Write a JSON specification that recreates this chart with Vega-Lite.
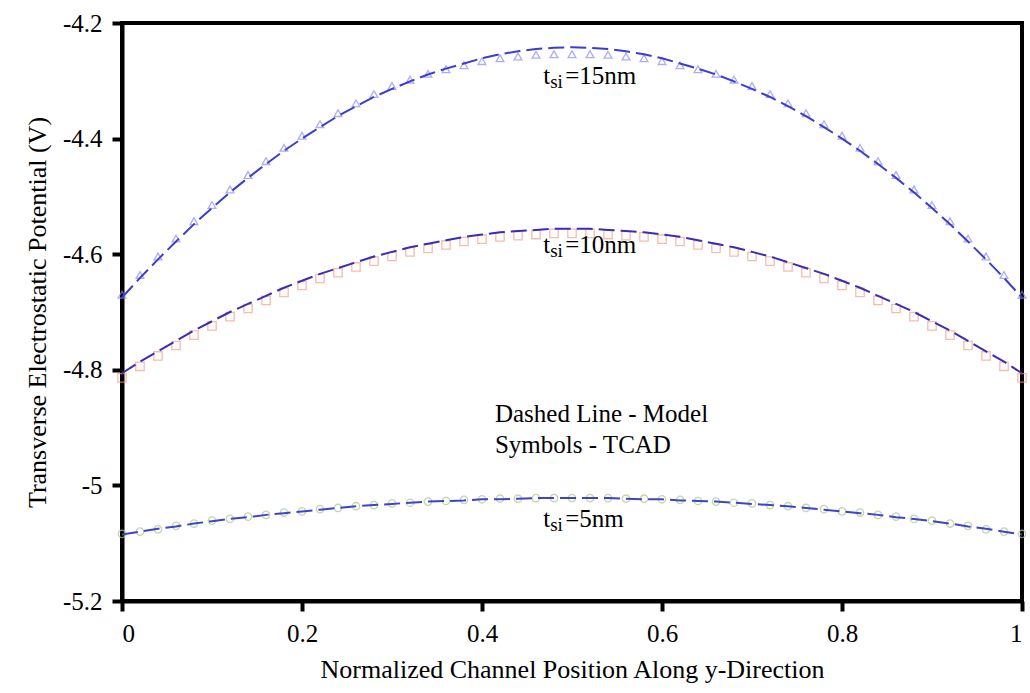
{
  "$schema": "https://vega.github.io/schema/vega-lite/v6.json",
  "width": 900,
  "height": 578,
  "autosize": {"type": "none"},
  "padding": {"left": 122, "top": 23, "right": 8, "bottom": 92},
  "background": "white",
  "config": {
    "font": "Times New Roman, Liberation Serif, DejaVu Serif, serif",
    "view": {"stroke": "black", "strokeWidth": 4},
    "text": {"font": "Times New Roman, Liberation Serif, DejaVu Serif, serif"},
    "axis": {
      "domainColor": "black", "domainWidth": 4,
      "tickColor": "black", "tickWidth": 4, "tickSize": 10,
      "labelFont": "Times New Roman, Liberation Serif, DejaVu Serif, serif", "labelFontSize": 25, "labelColor": "black",
      "titleFont": "Times New Roman, Liberation Serif, DejaVu Serif, serif", "titleFontSize": 26, "titleFontWeight": "normal", "titleColor": "black",
      "grid": false
    }
  },
  "datasets": {
    "curves": [
      {"x": 0.00, "m15": -4.675, "t15": -4.670, "m10": -4.806, "t10": -4.814, "m5": -5.085, "t5": -5.084},
      {"x": 0.02, "m15": -4.641, "t15": -4.636, "m10": -4.786, "t10": -4.794, "m5": -5.080, "t5": -5.080},
      {"x": 0.04, "m15": -4.609, "t15": -4.604, "m10": -4.768, "t10": -4.776, "m5": -5.075, "t5": -5.076},
      {"x": 0.06, "m15": -4.578, "t15": -4.573, "m10": -4.750, "t10": -4.758, "m5": -5.071, "t5": -5.070},
      {"x": 0.08, "m15": -4.548, "t15": -4.543, "m10": -4.732, "t10": -4.740, "m5": -5.066, "t5": -5.066},
      {"x": 0.10, "m15": -4.520, "t15": -4.515, "m10": -4.716, "t10": -4.724, "m5": -5.062, "t5": -5.061},
      {"x": 0.12, "m15": -4.493, "t15": -4.488, "m10": -4.700, "t10": -4.708, "m5": -5.058, "t5": -5.058},
      {"x": 0.14, "m15": -4.468, "t15": -4.463, "m10": -4.686, "t10": -4.694, "m5": -5.055, "t5": -5.054},
      {"x": 0.16, "m15": -4.444, "t15": -4.439, "m10": -4.672, "t10": -4.680, "m5": -5.051, "t5": -5.051},
      {"x": 0.18, "m15": -4.421, "t15": -4.416, "m10": -4.658, "t10": -4.666, "m5": -5.048, "t5": -5.047},
      {"x": 0.20, "m15": -4.400, "t15": -4.395, "m10": -4.646, "t10": -4.654, "m5": -5.045, "t5": -5.045},
      {"x": 0.22, "m15": -4.380, "t15": -4.375, "m10": -4.634, "t10": -4.642, "m5": -5.042, "t5": -5.041},
      {"x": 0.24, "m15": -4.361, "t15": -4.356, "m10": -4.624, "t10": -4.632, "m5": -5.039, "t5": -5.039},
      {"x": 0.26, "m15": -4.344, "t15": -4.339, "m10": -4.614, "t10": -4.622, "m5": -5.036, "t5": -5.036},
      {"x": 0.28, "m15": -4.328, "t15": -4.323, "m10": -4.604, "t10": -4.612, "m5": -5.034, "t5": -5.034},
      {"x": 0.30, "m15": -4.314, "t15": -4.309, "m10": -4.596, "t10": -4.604, "m5": -5.032, "t5": -5.031},
      {"x": 0.32, "m15": -4.301, "t15": -4.298, "m10": -4.588, "t10": -4.596, "m5": -5.030, "t5": -5.030},
      {"x": 0.34, "m15": -4.289, "t15": -4.288, "m10": -4.582, "t10": -4.590, "m5": -5.028, "t5": -5.028},
      {"x": 0.36, "m15": -4.279, "t15": -4.280, "m10": -4.576, "t10": -4.584, "m5": -5.027, "t5": -5.027},
      {"x": 0.38, "m15": -4.270, "t15": -4.273, "m10": -4.570, "t10": -4.578, "m5": -5.026, "t5": -5.025},
      {"x": 0.40, "m15": -4.261, "t15": -4.266, "m10": -4.566, "t10": -4.574, "m5": -5.024, "t5": -5.024},
      {"x": 0.42, "m15": -4.254, "t15": -4.261, "m10": -4.562, "t10": -4.570, "m5": -5.024, "t5": -5.023},
      {"x": 0.44, "m15": -4.249, "t15": -4.258, "m10": -4.560, "t10": -4.568, "m5": -5.023, "t5": -5.023},
      {"x": 0.46, "m15": -4.245, "t15": -4.255, "m10": -4.558, "t10": -4.566, "m5": -5.022, "t5": -5.022},
      {"x": 0.48, "m15": -4.243, "t15": -4.254, "m10": -4.556, "t10": -4.564, "m5": -5.022, "t5": -5.022},
      {"x": 0.50, "m15": -4.242, "t15": -4.254, "m10": -4.556, "t10": -4.564, "m5": -5.022, "t5": -5.022},
      {"x": 0.52, "m15": -4.243, "t15": -4.254, "m10": -4.556, "t10": -4.564, "m5": -5.022, "t5": -5.022},
      {"x": 0.54, "m15": -4.245, "t15": -4.255, "m10": -4.558, "t10": -4.566, "m5": -5.022, "t5": -5.022},
      {"x": 0.56, "m15": -4.249, "t15": -4.258, "m10": -4.560, "t10": -4.568, "m5": -5.023, "t5": -5.023},
      {"x": 0.58, "m15": -4.254, "t15": -4.261, "m10": -4.562, "t10": -4.570, "m5": -5.024, "t5": -5.023},
      {"x": 0.60, "m15": -4.261, "t15": -4.266, "m10": -4.566, "t10": -4.574, "m5": -5.024, "t5": -5.024},
      {"x": 0.62, "m15": -4.270, "t15": -4.273, "m10": -4.570, "t10": -4.578, "m5": -5.026, "t5": -5.025},
      {"x": 0.64, "m15": -4.279, "t15": -4.280, "m10": -4.576, "t10": -4.584, "m5": -5.027, "t5": -5.027},
      {"x": 0.66, "m15": -4.289, "t15": -4.288, "m10": -4.582, "t10": -4.590, "m5": -5.028, "t5": -5.028},
      {"x": 0.68, "m15": -4.301, "t15": -4.298, "m10": -4.588, "t10": -4.596, "m5": -5.030, "t5": -5.030},
      {"x": 0.70, "m15": -4.314, "t15": -4.309, "m10": -4.596, "t10": -4.604, "m5": -5.032, "t5": -5.031},
      {"x": 0.72, "m15": -4.328, "t15": -4.323, "m10": -4.604, "t10": -4.612, "m5": -5.034, "t5": -5.034},
      {"x": 0.74, "m15": -4.344, "t15": -4.339, "m10": -4.614, "t10": -4.622, "m5": -5.036, "t5": -5.036},
      {"x": 0.76, "m15": -4.361, "t15": -4.356, "m10": -4.624, "t10": -4.632, "m5": -5.039, "t5": -5.039},
      {"x": 0.78, "m15": -4.380, "t15": -4.375, "m10": -4.634, "t10": -4.642, "m5": -5.042, "t5": -5.041},
      {"x": 0.80, "m15": -4.400, "t15": -4.395, "m10": -4.646, "t10": -4.654, "m5": -5.045, "t5": -5.045},
      {"x": 0.82, "m15": -4.421, "t15": -4.416, "m10": -4.658, "t10": -4.666, "m5": -5.048, "t5": -5.047},
      {"x": 0.84, "m15": -4.444, "t15": -4.439, "m10": -4.672, "t10": -4.680, "m5": -5.051, "t5": -5.051},
      {"x": 0.86, "m15": -4.468, "t15": -4.463, "m10": -4.686, "t10": -4.694, "m5": -5.055, "t5": -5.054},
      {"x": 0.88, "m15": -4.493, "t15": -4.488, "m10": -4.700, "t10": -4.708, "m5": -5.058, "t5": -5.058},
      {"x": 0.90, "m15": -4.520, "t15": -4.515, "m10": -4.716, "t10": -4.724, "m5": -5.062, "t5": -5.061},
      {"x": 0.92, "m15": -4.548, "t15": -4.543, "m10": -4.732, "t10": -4.740, "m5": -5.066, "t5": -5.066},
      {"x": 0.94, "m15": -4.578, "t15": -4.573, "m10": -4.750, "t10": -4.758, "m5": -5.071, "t5": -5.070},
      {"x": 0.96, "m15": -4.609, "t15": -4.604, "m10": -4.768, "t10": -4.776, "m5": -5.075, "t5": -5.076},
      {"x": 0.98, "m15": -4.641, "t15": -4.636, "m10": -4.786, "t10": -4.794, "m5": -5.080, "t5": -5.080},
      {"x": 1.00, "m15": -4.675, "t15": -4.670, "m10": -4.806, "t10": -4.814, "m5": -5.085, "t5": -5.084}
    ],
    "labels": [
      {"x": 0.468, "y": -4.3055, "t": "t", "sub": "si", "rest": "=15nm"},
      {"x": 0.468, "y": -4.598, "t": "t", "sub": "si", "rest": "=10nm"},
      {"x": 0.468, "y": -5.072, "t": "t", "sub": "si", "rest": "=5nm"}
    ],
    "notes": [
      {"x": 0.4144, "y": -4.890, "text": "Dashed Line - Model"},
      {"x": 0.4144, "y": -4.944, "text": "Symbols - TCAD"}
    ]
  },
  "data": {"name": "curves"},
  "encoding": {
    "x": {
      "field": "x", "type": "quantitative",
      "scale": {"domain": [0, 1], "nice": false},
      "axis": {
        "title": "Normalized Channel Position Along y-Direction",
        "values": [0, 0.2, 0.4, 0.6, 0.8, 1],
        "labelExpr": "format(datum.value, '.1~f')",
        "labelPadding": 10, "titlePadding": 10
      }
    }
  },
  "layer": [
    {
      "mark": {"type": "point", "shape": "triangle-up", "filled": false, "size": 60, "strokeWidth": 1.3, "color": "#8a8af5"},
      "encoding": {"y": {"field": "t15", "type": "quantitative", "title": "Transverse Electrostatic Potential (V)", "scale": {"domain": [-5.2, -4.2], "nice": false},
        "axis": {"values": [-5.2, -5, -4.8, -4.6, -4.4, -4.2], "labelExpr": "replace(format(datum.value, '.1~f'), '\u2212', '-')", "labelPadding": 10, "titlePadding": 12}}}
    },
    {
      "mark": {"type": "point", "shape": "square", "filled": false, "size": 70, "strokeWidth": 1.3, "color": "#f5a088"},
      "encoding": {"y": {"field": "t10", "type": "quantitative", "title": "Transverse Electrostatic Potential (V)"}}
    },
    {
      "mark": {"type": "point", "shape": "circle", "filled": false, "size": 55, "strokeWidth": 1.3, "color": "#a6c98a"},
      "encoding": {"y": {"field": "t5", "type": "quantitative", "title": "Transverse Electrostatic Potential (V)"}}
    },
    {
      "mark": {"type": "line", "strokeDash": [16, 6], "strokeWidth": 2, "color": "#3c3cd2"},
      "encoding": {"y": {"field": "m15", "type": "quantitative", "title": "Transverse Electrostatic Potential (V)"}}
    },
    {
      "mark": {"type": "line", "strokeDash": [16, 6], "strokeWidth": 2, "color": "#3a2cb8"},
      "encoding": {"y": {"field": "m10", "type": "quantitative", "title": "Transverse Electrostatic Potential (V)"}}
    },
    {
      "mark": {"type": "line", "strokeDash": [16, 6], "strokeWidth": 2, "color": "#3c44cc"},
      "encoding": {"y": {"field": "m5", "type": "quantitative", "title": "Transverse Electrostatic Potential (V)"}}
    },
    {
      "data": {"name": "labels"},
      "mark": {"type": "text", "align": "left", "baseline": "alphabetic", "fontSize": 25, "color": "black"},
      "encoding": {"y": {"field": "y", "type": "quantitative", "title": "Transverse Electrostatic Potential (V)"}, "text": {"field": "t"}}
    },
    {
      "data": {"name": "labels"},
      "mark": {"type": "text", "align": "left", "baseline": "alphabetic", "fontSize": 19, "dx": 7, "dy": 4, "color": "black"},
      "encoding": {"y": {"field": "y", "type": "quantitative", "title": "Transverse Electrostatic Potential (V)"}, "text": {"field": "sub"}}
    },
    {
      "data": {"name": "labels"},
      "mark": {"type": "text", "align": "left", "baseline": "alphabetic", "fontSize": 25, "dx": 22, "color": "black"},
      "encoding": {"y": {"field": "y", "type": "quantitative", "title": "Transverse Electrostatic Potential (V)"}, "text": {"field": "rest"}}
    },
    {
      "data": {"name": "notes"},
      "mark": {"type": "text", "align": "left", "baseline": "alphabetic", "fontSize": 25, "color": "black"},
      "encoding": {"y": {"field": "y", "type": "quantitative", "title": "Transverse Electrostatic Potential (V)"}, "text": {"field": "text"}}
    }
  ]
}
